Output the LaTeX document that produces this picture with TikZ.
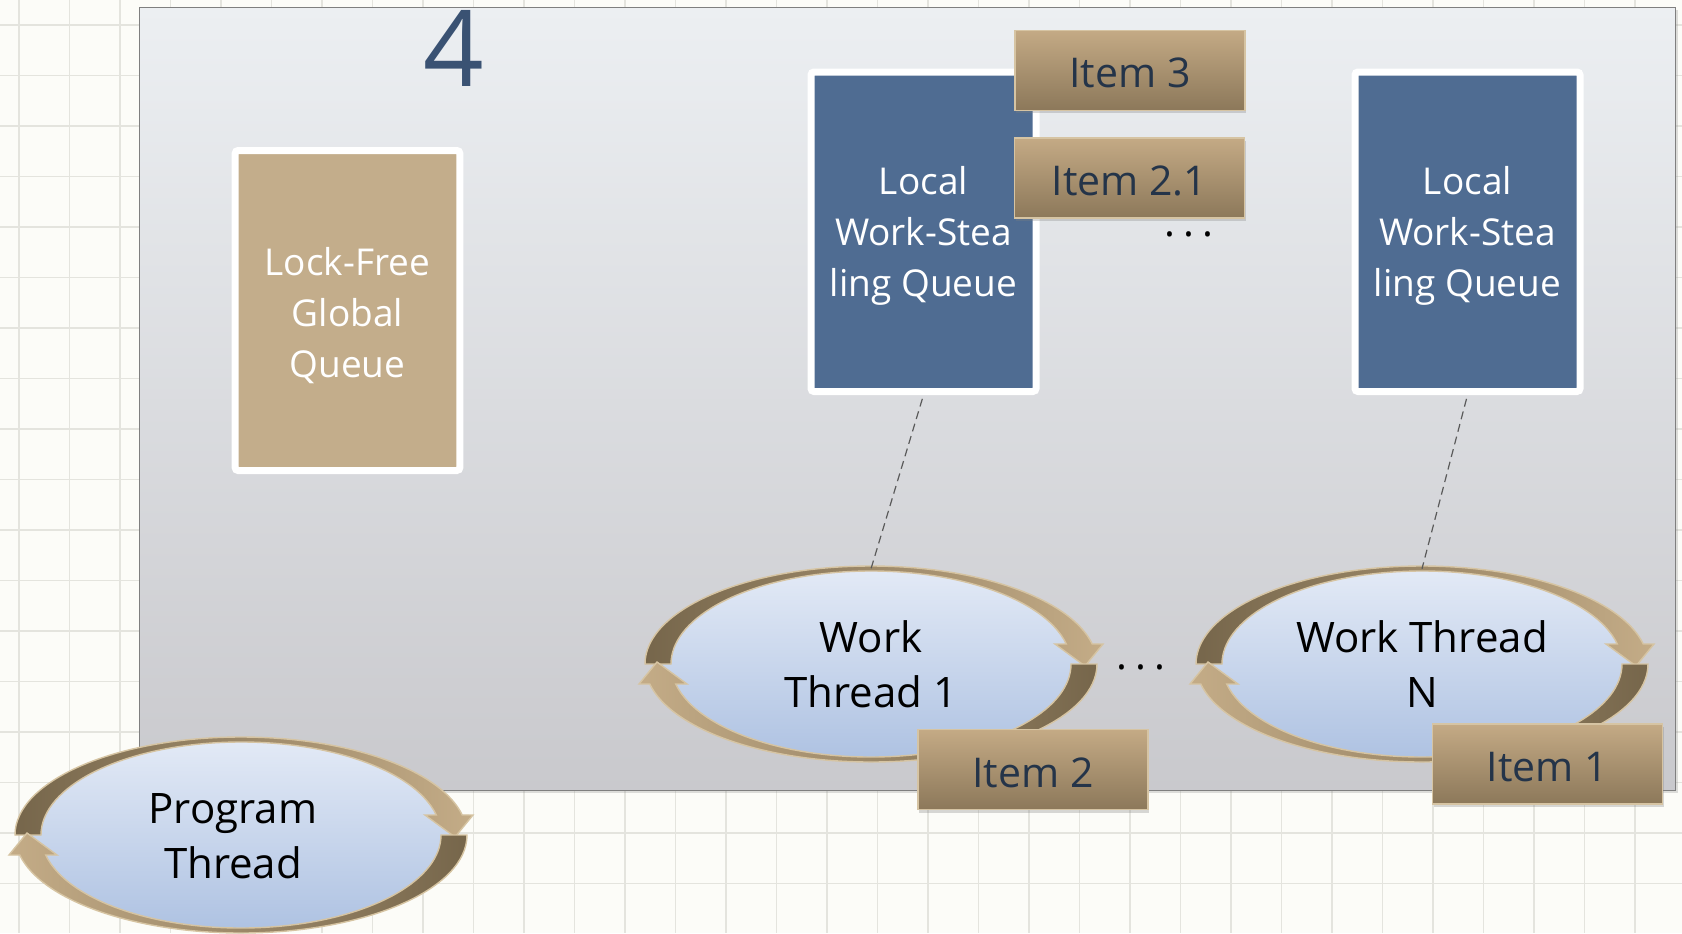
\documentclass[tikz,border=0pt]{standalone}
\usepackage{fontspec}
\setmainfont{Open Sans}
\usetikzlibrary{shapes.geometric,shadows}
\definecolor{bgpaper}{HTML}{FCFCF8}
\definecolor{gridc}{HTML}{E4E4DE}
\definecolor{paneltop}{HTML}{ECEFF2}
\definecolor{panelbot}{HTML}{C9C9CD}
\definecolor{panelline}{HTML}{7F7F7F}
\definecolor{tanbox}{HTML}{C3AD8B}
\definecolor{bluebox}{HTML}{4F6C92}
\definecolor{itemtop}{HTML}{C4AA85}
\definecolor{itembot}{HTML}{8C785A}
\definecolor{itemline}{HTML}{D6C4A3}
\definecolor{itemtext}{HTML}{243449}
\definecolor{fourc}{HTML}{3A5273}
\definecolor{elltop}{HTML}{E3EAF6}
\definecolor{ellbot}{HTML}{AEC2E2}
\definecolor{ellline}{HTML}{5874A0}
\definecolor{bandlight}{HTML}{C4AC87}
\definecolor{bandmid}{HTML}{AE9672}
\definecolor{banddark}{HTML}{76664B}
\definecolor{bandline}{HTML}{D6C4A2}
\definecolor{dashc}{HTML}{5A5A5A}
\newcommand\cyclearrows[2]{%
\begin{scope}[shift={(#1,-#2)}]
 \path[band, left color=banddark, middle color=bandmid, right color=bandlight]
   (180:226 and 98) arc[start angle=180, end angle=11.8, x radius=226, y radius=98]
   -- (232,20) -- (214,-2) -- (184,20)
   -- (12.4:200 and 93) arc[start angle=12.4, end angle=180, x radius=200, y radius=93] -- cycle;
 \path[band, left color=bandlight, middle color=bandmid, right color=banddark]
   (0:226 and 98) arc[start angle=0, end angle=-168.2, x radius=226, y radius=98]
   -- (-232,-20) -- (-214,2) -- (-184,-20)
   -- (-167.6:200 and 93) arc[start angle=-167.6, end angle=0, x radius=200, y radius=93] -- cycle;
\end{scope}}
\begin{document}
\begin{tikzpicture}[x=0.5pt,y=0.5pt,
  gridline/.style={draw=gridc, line width=0.7pt},
  panel/.style={top color=paneltop, bottom color=panelbot, draw=panelline, line width=0.75pt,
    drop shadow={opacity=0.25, shadow xshift=1pt, shadow yshift=-1pt}},
  boxshadow/.style={drop shadow={opacity=0.3, shadow xshift=0.6pt, shadow yshift=-1.6pt}},
  queuebox/.style={rectangle, draw=white, line width=3.5pt, rounded corners=1.5pt,
    minimum width=112.5pt, minimum height=159.75pt, inner sep=0pt, text=white, align=center,
    font=\fontsize{18.5pt}{25.5pt}\selectfont, boxshadow},
  itembox/.style={rectangle, top color=itemtop, bottom color=itembot, draw=itemline, line width=0.75pt,
    minimum width=115pt, minimum height=40pt, inner sep=0pt, text=itemtext,
    text height=17.5pt, text depth=0pt,
    font=\fontsize{20.5pt}{24pt}\selectfont, boxshadow},
  thread/.style={ellipse, top color=elltop, bottom color=ellbot, draw=ellline, line width=0.3pt,
    minimum width=212pt, minimum height=95pt, inner sep=0pt, align=center,
    font=\fontsize{21pt}{27.5pt}\selectfont, text=black},
  threadtext/.style={inner sep=0pt, align=center, font=\fontsize{21pt}{27.5pt}\selectfont, text=black},
  band/.style={draw=bandline, line width=0.7pt},
  dotsty/.style={font=\fontsize{20.5pt}{24pt}\selectfont, text=black, inner sep=0pt},
  dashline/.style={draw=dashc, line width=0.6pt, dash pattern=on 4pt off 2.5pt}]
\useasboundingbox (0,0) rectangle (1682,-933);
\fill[bgpaper] (0,0) rectangle (1682,-933);
\foreach \i in {0,...,32} {\draw[gridline] ({19+50.5*\i},0) -- ({19+50.5*\i},-933);}
\foreach \j in {0,...,17} {\draw[gridline] (0,{-25-50.5*\j}) -- (1682,{-25-50.5*\j});}
% panel
\path[panel] (139.5,-7.5) rectangle (1675.5,-790.5);
\node[text=fourc, font=\fontsize{53pt}{60pt}\selectfont, inner sep=0pt] (four) at (453.5,-48) {4};
% queues
\node[queuebox, fill=tanbox, minimum width=112.35pt, minimum height=160pt] (gq) at (347.5,-310.5) {\rule{0pt}{19pt}Lock-Free\\Global\\Queue};
\node[queuebox, fill=bluebox] (lq1) at (923.5,-231.75) {\rule{0pt}{18.5pt}Local\\Work-Stea\\ling Queue};
\node[queuebox, fill=bluebox] (lq2) at (1467.5,-231.75) {\rule{0pt}{18.5pt}Local\\Work-Stea\\ling Queue};
% items on top
\node[itembox] (it3) at (1130,-70.25) {Item 3};
\node[itembox] (it21) at (1129.6,-178) {Item 2.1};
\node[dotsty] (dots1) at (1189,-234) {.\hspace{4pt}.\hspace{4pt}.};
% work threads
\node[thread] (wt1) at (871,-664) {Work\\Thread 1};
\cyclearrows{871}{664}
\node[thread] (wtn) at (1422,-664) {Work Thread\\N};
\cyclearrows{1422}{664}
\draw[dashline, shorten <=2pt] (lq1.south) -- (wt1.north);
\draw[dashline, shorten <=2pt] (lq2.south) -- (wtn.north);
\node[dotsty] (dots2) at (1141,-667) {.\hspace{4pt}.\hspace{4pt}.};
\node[itembox] (it2) at (1033,-769.6) {Item 2};
\node[itembox] (it1) at (1547.3,-764.2) {Item 1};
% program thread
\node[thread] (pt) at (241,-835) {};
\cyclearrows{241}{835}
\node[threadtext] (pttext) at (233,-836) {Program\\Thread};
\end{tikzpicture}
\end{document}
